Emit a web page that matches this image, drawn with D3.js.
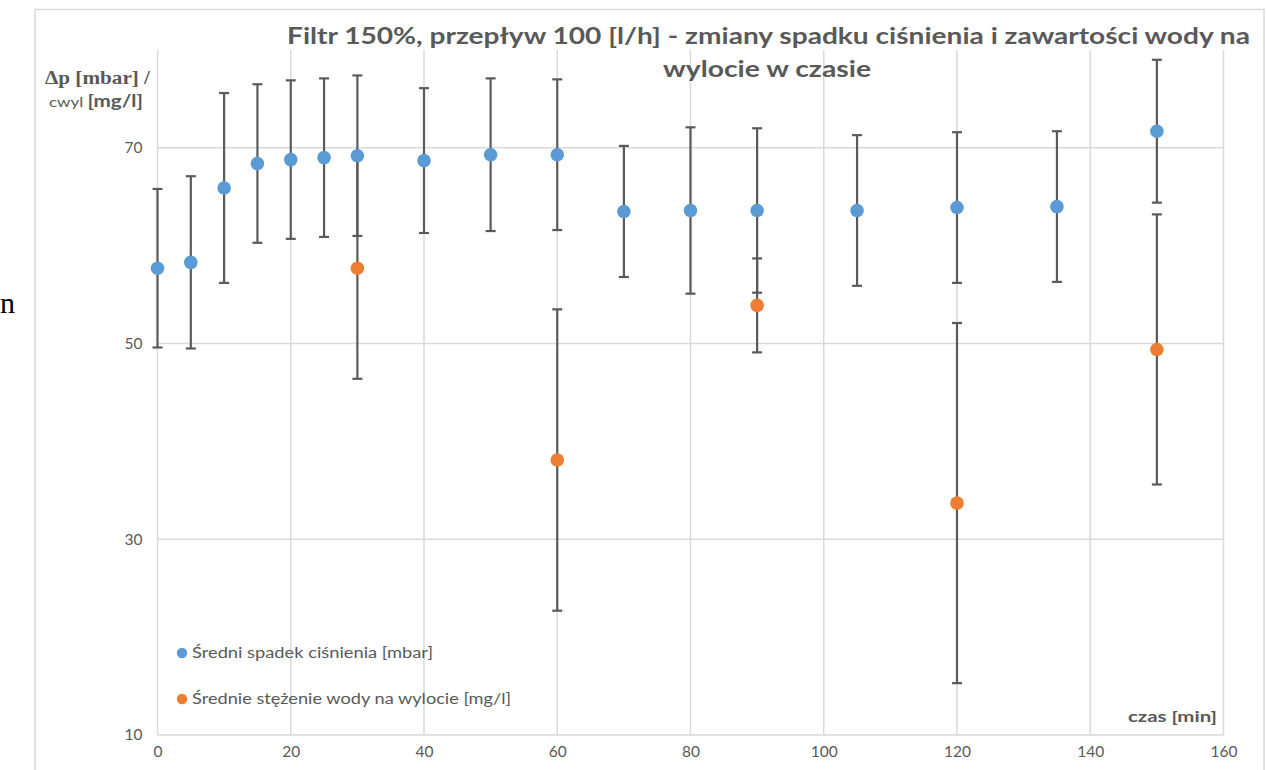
<!DOCTYPE html>
<html>
<head>
<meta charset="utf-8">
<script src="https://cdn.jsdelivr.net/npm/d3@7"></script>
<style>
html,body{margin:0;padding:0;background:#fff;}
svg{display:block;}
</style>
</head>
<body>
<svg id="chart" width="1266" height="770"></svg>
<script>
// ---- data ----
const times = [0, 5, 10, 15, 20, 25, 30, 40, 50, 60, 70, 80, 90, 105, 120, 135, 150];
const dpMean = [57.7, 58.3, 65.9, 68.4, 68.8, 69.0, 69.2, 68.7, 69.3, 69.3, 63.5, 63.6, 63.6, 63.6, 63.9, 64.0, 71.7];
const dpErr = [8.1, 8.8, 9.7, 8.1, 8.1, 8.1, 8.2, 7.4, 7.8, 7.7, 6.7, 8.5, 8.4, 7.7, 7.7, 7.7, 7.3];
const waterTimes = [30, 60, 90, 120, 150];
const waterMean = [57.7, 38.1, 53.9, 33.7, 49.4];
const waterErr = [11.3, 15.4, 4.8, 18.4, 13.8];
const xTicks = [0, 20, 40, 60, 80, 100, 120, 140, 160];
const yTicks = [10, 30, 50, 70];
const seriesNames = ["Średni spadek ciśnienia [mbar]", "Średnie stężenie wody na wylocie [mg/l]"];
const titleLines = ["Filtr 150%, przepływ 100 [l/h] - zmiany spadku ciśnienia i zawartości wody na", "wylocie w czasie"];
const xAxisTitle = "czas [min]";

// ---- layout ----
const svg = d3.select("#chart");
const plot = {left: 157.5, right: 1223.5, top: 50, bottom: 735};
const x = d3.scaleLinear().domain([0, 160]).range([plot.left, plot.right]);
const y = d3.scaleLinear().domain([10, 80]).range([plot.bottom, plot.top]);
const grey = "#595959";
const gridCol = "#d9d9d9";
const blue = "#5B9BD5", orange = "#ED7D31";
const font = "Lato, 'Open Sans', sans-serif";
const serif = "'Liberation Serif', 'DejaVu Serif', serif";

function fit(sel, w) {
  const len = sel.node().getComputedTextLength();
  if (len > 0) sel.attr("textLength", w).attr("lengthAdjust", "spacingAndGlyphs");
  return sel;
}

// chart frame
svg.append("rect").attr("x", 35).attr("y", 9.5).attr("width", 1229).attr("height", 800)
  .attr("fill", "none").attr("stroke", gridCol).attr("stroke-width", 1.5);

// stray document glyph at the left edge
svg.append("text").attr("x", 0).attr("y", 313)
  .attr("font-family", serif).attr("font-size", 30)
  .attr("fill", "#000").text("n");

// gridlines
svg.append("g").selectAll("line").data(xTicks).join("line")
  .attr("x1", d => x(d)).attr("x2", d => x(d))
  .attr("y1", plot.top).attr("y2", plot.bottom)
  .attr("stroke", gridCol).attr("stroke-width", 1.5);
svg.append("g").selectAll("line").data(yTicks).join("line")
  .attr("x1", plot.left).attr("x2", plot.right)
  .attr("y1", d => y(d)).attr("y2", d => y(d))
  .attr("stroke", gridCol).attr("stroke-width", 1.5);

// axes (labels only, via d3 axis)
const yAxis = svg.append("g").attr("transform", `translate(${plot.left - 15},0)`)
  .call(d3.axisLeft(y).tickValues(yTicks).tickSize(0).tickPadding(0));
yAxis.select(".domain").remove();
yAxis.selectAll("text").attr("font-family", font).attr("font-size", 15.5).attr("fill", grey);

const xAxis = svg.append("g").attr("transform", `translate(0,${plot.bottom + 11})`)
  .call(d3.axisBottom(x).tickValues(xTicks).tickSize(0).tickPadding(0));
xAxis.select(".domain").remove();
xAxis.selectAll("text").attr("font-family", font).attr("font-size", 15.5).attr("fill", grey);

// error bars
const cap = 5;
function errBars(ts, ms, es) {
  const g = svg.append("g").attr("stroke", "#5a5a5a").attr("stroke-width", 2.2);
  ts.forEach((t, i) => {
    const cx = x(t), y1 = y(ms[i] + es[i]), y2 = y(ms[i] - es[i]);
    g.append("line").attr("x1", cx).attr("x2", cx).attr("y1", y1).attr("y2", y2);
    g.append("line").attr("x1", cx - cap).attr("x2", cx + cap).attr("y1", y1).attr("y2", y1);
    g.append("line").attr("x1", cx - cap).attr("x2", cx + cap).attr("y1", y2).attr("y2", y2);
  });
}
errBars(times, dpMean, dpErr);
errBars(waterTimes, waterMean, waterErr);

// markers
svg.append("g").selectAll("circle").data(times).join("circle")
  .attr("cx", d => x(d)).attr("cy", (d, i) => y(dpMean[i])).attr("r", 6.8).attr("fill", blue);
svg.append("g").selectAll("circle").data(waterTimes).join("circle")
  .attr("cx", d => x(d)).attr("cy", (d, i) => y(waterMean[i])).attr("r", 6.8).attr("fill", orange);

// title
const t1 = svg.append("text").attr("x", 768.5).attr("y", 44).attr("text-anchor", "middle")
  .attr("font-family", font).attr("font-weight", "bold").attr("font-size", 23).attr("fill", grey)
  .text(titleLines[0]);
fit(t1, 963);
const t2 = svg.append("text").attr("x", 767).attr("y", 77).attr("text-anchor", "middle")
  .attr("font-family", font).attr("font-weight", "bold").attr("font-size", 23).attr("fill", grey)
  .text(titleLines[1]);
fit(t2, 208);

// y axis title
const ya1 = svg.append("text").attr("x", 45).attr("y", 84)
  .attr("font-family", serif).attr("font-weight", "bold")
  .attr("font-size", 18.5).attr("fill", grey).text("Δp [mbar] /");
fit(ya1, 105);
const ya2 = svg.append("text").attr("x", 49).attr("y", 107).attr("fill", grey).attr("font-family", font);
ya2.append("tspan").attr("font-size", 14).text("cwyl ");
ya2.append("tspan").attr("font-size", 17).attr("font-weight", "bold").text("[mg/l]");
fit(ya2, 94);

// x axis title
const xt = svg.append("text").attr("x", 1128).attr("y", 722)
  .attr("font-family", font).attr("font-weight", "bold").attr("font-size", 16).attr("fill", grey)
  .text(xAxisTitle);
fit(xt, 89);

// legend
const legendY = [653, 699];
const legendW = [241, 319];
[blue, orange].forEach((c, i) => {
  svg.append("circle").attr("cx", 182).attr("cy", legendY[i]).attr("r", 5.2).attr("fill", c);
  const lt = svg.append("text").attr("x", 192).attr("y", legendY[i] + 5)
    .attr("font-family", font).attr("font-size", 15.5).attr("fill", grey).text(seriesNames[i]);
  fit(lt, legendW[i]);
});
</script>
</body>
</html>
